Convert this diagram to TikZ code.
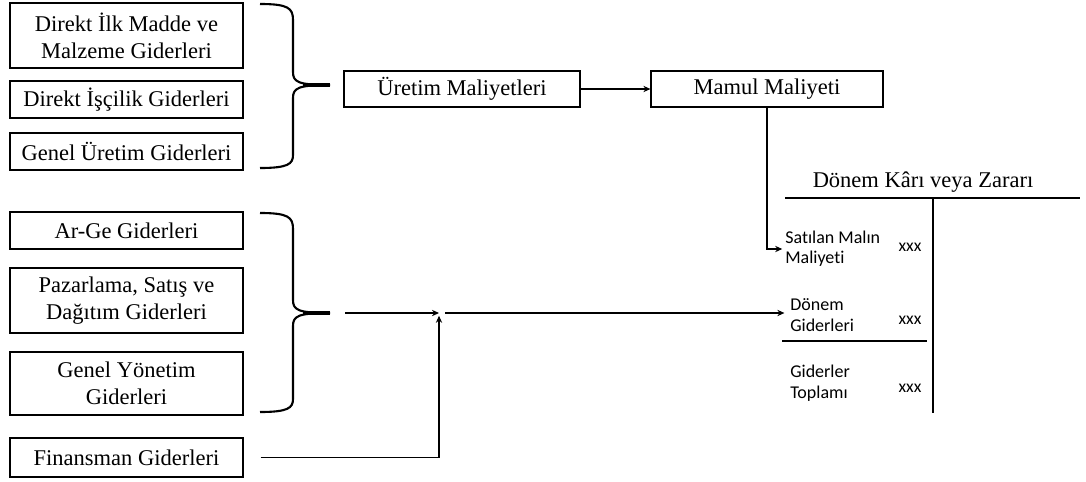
\documentclass[tikz,border=0pt]{standalone}
\usepackage{fontspec}
\setmainfont{Liberation Serif}
\newfontfamily\calibrifont[Ligatures=NoCommon]{Carlito}
\usetikzlibrary{arrows.meta}

\begin{document}
\begin{tikzpicture}[
    x=0.025cm, y=-0.025cm,
    cost/.style={rectangle, draw, line width=0.8pt, minimum width=5.825cm, minimum height=0.925cm, align=center, font=\fontsize{16}{19}\selectfont, inner sep=2pt},
    tall/.style={cost, minimum height=1.625cm},
    item/.style={anchor=west, align=left, font=\calibrifont\fontsize{12.8}{14.5}\selectfont, inner sep=0pt},
    amount/.style={font=\calibrifont\fontsize{12.5}{14}\selectfont, inner sep=0pt},
    flow/.style={-{Stealth[length=5pt, width=4.5pt]}, line width=0.8pt},
    bracket/.style={line width=1.5pt},
    account/.style={line width=0.9pt}
]
\useasboundingbox (0,0) rectangle (1086,481);

% Production costs
\node[tall] (ilkmadde) at (126.5,35.5) {Direkt İlk Madde ve\\Malzeme Giderleri};
\node[cost] (iscilik) at (126.5,99.5) {Direkt İşçilik Giderleri};
\node[cost] (genelur) at (126.5,151.5) {Genel Üretim Giderleri};

% Period costs
\node[cost] (arge) at (126.5,230.5) {Ar-Ge Giderleri};
\node[tall] (pazarlama) at (126.5,300.5) {Pazarlama, Satış ve\\Dağıtım Giderleri};
\node[cost, minimum height=1.575cm] (yonetim) at (126.5,383.5) {Genel Yönetim\\Giderleri};
\node[cost, minimum height=0.975cm] (finansman) at (126.5,457.5) {Finansman Giderleri};

% Braces
\draw[bracket] (260,4) .. controls (288,4) and (293,8) .. (293,20) -- (293,72)
    .. controls (293,82) and (298,85) .. (330,85)
    .. controls (298,85) and (293,88) .. (293,98) -- (293,155)
    .. controls (293,164) and (288,168) .. (260,168);
\draw[line width=3pt] (303,85) -- (330,85);
\draw[bracket] (260,213) .. controls (288,213) and (293,217) .. (293,229) -- (293,300)
    .. controls (293,310) and (298,313) .. (330,313)
    .. controls (298,313) and (293,316) .. (293,326) -- (293,399)
    .. controls (293,408) and (288,412) .. (260,412);
\draw[line width=3pt] (303,313) -- (330,313);

% Middle boxes
\node[cost, minimum width=5.9cm, minimum height=0.9cm] (uretim) at (462,89) {Üretim Maliyetleri};
\node[cost, minimum width=5.8cm, minimum height=0.9cm] (mamul) at (767,89) {Mamul Maliyeti};

% T-account
\node[font=\fontsize{16}{19}\selectfont] (donemkar) at (923,182) {Dönem Kârı veya Zararı};
\coordinate (tl) at (785,198);
\coordinate (tr) at (1080,198);
\coordinate (tm) at (933,198);
\coordinate (tb) at (933,413);
\coordinate (sl) at (782,341);
\coordinate (sr) at (927,341);
\draw[account] (tl) -- (tr);
\draw[account] (tm) -- (tb);
\draw[account] (sl) -- (sr);

\node[item] (satilan) at (785,249) {Satılan Malın\\Maliyeti};
\node[item] (donemgid) at (790,315) {Dönem\\Giderleri};
\node[item] (toplam) at (790,383) {Giderler\\Toplamı};
\node[amount] (xxxa) at (910,247) {xxx};
\node[amount] (xxxb) at (910,320) {xxx};
\node[amount] (xxxc) at (910,388) {xxx};

% Flows
\coordinate (tip) at (345,313);
\coordinate (join) at (439,313);
\coordinate (dg) at (join -| donemgid.west);
\draw[flow] (uretim) -- (mamul);
\draw[flow] (mamul.south) |- ([xshift=-2pt]satilan.west);
\draw[flow] (tip) -- (join);
\draw[flow] ([xshift=0.425cm]finansman.east) -| ([yshift=-2pt]join);
\draw[flow] ([xshift=0.15cm]join) -- ([xshift=-4pt]dg);

\end{tikzpicture}
\end{document}
